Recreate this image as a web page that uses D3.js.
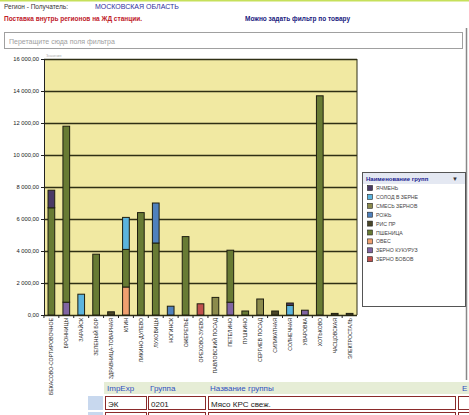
<!DOCTYPE html>
<html>
<head>
<meta charset="utf-8">
<script src="https://cdn.jsdelivr.net/npm/d3@7"></script>
<style>
  body { margin: 0; background: #fff; }
  text { font-family: "Liberation Sans", Arial, sans-serif; }
</style>
</head>
<body>
<script>
// categories (stations)
var stations = ["БЕКАСОВО-СОРТИРОВОЧНОЕ", "БРОННИЦЫ", "ЗАРАЙСК", "ЗЕЛЕНЫЙ БОР", "ЗДРАВНИЦА-ТОВАРНАЯ",
  "КЛИН", "ЛИКИНО-ДУЛЕВО", "ЛУХОВИЦЫ", "НОГИНСК", "ОЖЕРЕЛЬЕ", "ОРЕХОВО-ЗУЕВО", "ПАВЛОВСКИЙ ПОСАД",
  "ПЕТЕЛИНО", "ПУШКИНО", "СЕРГИЕВ ПОСАД", "СИЛИКАТНАЯ", "СОЛНЕЧНАЯ", "УВАРОВКА", "ХОТЬКОВО",
  "ЧАСЦОВСКАЯ", "ЭЛЕКТРОСТАЛЬ"];

// series, bottom of stack first
var bobov    = [0, 0, 0, 0, 0, 0, 0, 0, 0, 0, 700, 0, 0, 0, 0, 0, 0, 0, 0, 0, 0];
var kukuruz  = [0, 800, 0, 0, 0, 0, 0, 0, 0, 0, 0, 0, 800, 0, 0, 0, 0, 300, 0, 0, 0];
var oves     = [0, 0, 0, 0, 0, 1750, 0, 0, 0, 0, 0, 0, 0, 0, 0, 0, 0, 0, 0, 0, 0];
var pshenica = [6700, 11000, 0, 3800, 0, 2350, 6400, 4500, 0, 4900, 0, 0, 3250, 250, 0, 0, 0, 0, 13700, 0, 0];
var ris      = [0, 0, 0, 0, 200, 0, 0, 0, 0, 0, 0, 0, 0, 0, 0, 250, 0, 0, 0, 100, 100];
var rozh     = [0, 0, 0, 0, 0, 0, 0, 2500, 550, 0, 0, 0, 0, 0, 0, 0, 0, 0, 0, 0, 0];
var smes     = [0, 0, 0, 0, 0, 0, 0, 0, 0, 0, 0, 1100, 0, 0, 1000, 0, 0, 0, 0, 0, 0];
var solod    = [0, 0, 1300, 0, 0, 2000, 0, 0, 0, 0, 0, 0, 0, 0, 0, 0, 600, 0, 0, 0, 0];
var yachmen  = [1100, 0, 0, 0, 0, 0, 0, 0, 0, 0, 0, 0, 0, 0, 0, 0, 150, 0, 0, 0, 0];

var seriesNames = ["ЗЕРНО БОБОВ", "ЗЕРНО КУКУРУЗ", "ОВЕС", "ПШЕНИЦА", "РИС ПР", "РОЖЬ", "СМЕСЬ ЗЕРНОВ", "СОЛОД В ЗЕРНЕ", "ЯЧМЕНЬ"];
var seriesValues = [bobov, kukuruz, oves, pshenica, ris, rozh, smes, solod, yachmen];
var seriesColors = ["#c0504d", "#8064a2", "#f0a070", "#687b34", "#4a4628", "#4f81bd", "#8c8b4c", "#5bb4de", "#4a3a66"];

var yTicks = [0, 2000, 4000, 6000, 8000, 10000, 12000, 14000, 16000];

var W = 469, H = 415;
var svg = d3.select("body").append("svg").attr("width", W).attr("height", H);

// header
svg.append("rect").attr("x", 0).attr("y", 0).attr("width", W).attr("height", 1.5).attr("fill", "#c6e05a");
svg.append("text").attr("x", 4).attr("y", 9).attr("font-size", 6.5).attr("fill", "#333").text("Регион - Получатель:");
svg.append("text").attr("x", 95).attr("y", 9).attr("font-size", 7).attr("fill", "#3030a0").text("МОСКОВСКАЯ ОБЛАСТЬ");
svg.append("text").attr("x", 4).attr("y", 21).attr("font-size", 6.5).attr("font-weight", "bold").attr("fill", "#c0202a")
  .text("Поставка внутрь регионов на ЖД станции.");
svg.append("text").attr("x", 245).attr("y", 21).attr("font-size", 6.5).attr("font-weight", "bold").attr("fill", "#1a1a80")
  .text("Можно задать фильтр по товару");

// filter box
svg.append("rect").attr("x", 4.5).attr("y", 32.5).attr("width", 458).attr("height", 16)
  .attr("fill", "#fff").attr("stroke", "#a0a0a0");
svg.append("text").attr("x", 9).attr("y", 43.5).attr("font-size", 7).attr("fill", "#a0a0a0").text("Перетащите сюда поля фильтра");
svg.append("line").attr("x1", 466.5).attr("x2", 466.5).attr("y1", 28).attr("y2", 380).attr("stroke", "#888").attr("stroke-width", 1.5);

// scales
var x = d3.scaleBand().domain(stations).range([44, 357]).paddingInner(0.55).paddingOuter(0.27);
var y = d3.scaleLinear().domain([0, 16000]).range([315, 59]);

var g = svg.append("g");
g.append("rect").attr("x", 44).attr("y", y(16000)).attr("width", 313).attr("height", y(0) - y(16000))
  .attr("fill", "#f1e9a2");

g.selectAll(".grid").data(yTicks).enter().append("line")
  .attr("x1", 44).attr("x2", 357)
  .attr("y1", function(d) { return Math.round(y(d)) + 0.5; })
  .attr("y2", function(d) { return Math.round(y(d)) + 0.5; })
  .attr("stroke", "#2f2f14").attr("stroke-width", 1.3);
g.append("line").attr("x1", 357).attr("x2", 357).attr("y1", y(16000)).attr("y2", y(0)).attr("stroke", "#2f2f14");

// stacked bars
var rows = stations.map(function(s, i) {
  var r = { station: s };
  seriesNames.forEach(function(n, k) { r[n] = seriesValues[k][i]; });
  return r;
});
var stack = d3.stack().keys(seriesNames)(rows);

stack.forEach(function(layer, k) {
  g.append("g").selectAll("rect").data(layer.filter(function(d) { return d[1] - d[0] > 0; })).enter().append("rect")
    .attr("x", function(d) { return x(d.data.station); })
    .attr("width", x.bandwidth())
    .attr("y", function(d) { return y(d[1]); })
    .attr("height", function(d) { return y(d[0]) - y(d[1]); })
    .attr("fill", seriesColors[k])
    .attr("stroke", "#1e1e10").attr("stroke-width", 1);
});

// y axis
var loc = d3.formatLocale({ decimal: ",", thousands: " ", grouping: [3], currency: ["", ""] });
var fmt = loc.format(",.2f");
var yAxis = svg.append("g").attr("transform", "translate(44,0)")
  .call(d3.axisLeft(y).tickValues(yTicks).tickSize(3).tickPadding(2).tickFormat(fmt));
yAxis.selectAll("text").attr("font-size", 5.8).attr("fill", "#222").style("font-family", "Liberation Sans, Arial, sans-serif");
yAxis.selectAll("line, path").attr("stroke", "#222");
svg.append("text").attr("x", 46).attr("y", 57).attr("font-size", 3.5).attr("fill", "#aaa").text("Значения");

// x labels
svg.append("g").selectAll("text").data(stations).enter().append("text")
  .attr("transform", function(d) { return "translate(" + (x(d) + x.bandwidth() / 2 + 2) + ",318) rotate(-90)"; })
  .attr("text-anchor", "end").attr("font-size", 5.2).attr("fill", "#1a1a1a").text(function(d) { return d; });
svg.append("g").selectAll("line").data(stations).enter().append("line")
  .attr("x1", function(d) { return x(d) - x.step() * x.paddingInner() / 2; })
  .attr("x2", function(d) { return x(d) - x.step() * x.paddingInner() / 2; })
  .attr("y1", 315).attr("y2", 318).attr("stroke", "#222");

// legend
var lg = svg.append("g");
lg.append("rect").attr("x", 362.5).attr("y", 172.5).attr("width", 103).attr("height", 134)
  .attr("fill", "#fff").attr("stroke", "#555");
lg.append("rect").attr("x", 363).attr("y", 173).attr("width", 102).attr("height", 11).attr("fill", "#e4e8f2");
lg.append("text").attr("x", 366).attr("y", 181).attr("font-size", 6).attr("font-weight", "bold").attr("fill", "#1a1a90")
  .text("Наименование групп");
lg.append("text").attr("x", 452).attr("y", 181).attr("font-size", 6).attr("fill", "#333").text("▼");
var legendOrder = seriesNames.slice().reverse();
legendOrder.forEach(function(n, i) {
  var k = seriesNames.indexOf(n);
  var yy = 190 + i * 8.9;
  lg.append("rect").attr("x", 367.5).attr("y", yy - 4.5).attr("width", 5).attr("height", 5)
    .attr("fill", seriesColors[k]).attr("stroke", "#222").attr("stroke-width", 0.6);
  lg.append("text").attr("x", 376).attr("y", yy).attr("font-size", 5.2).attr("fill", "#444").text(n);
});

// table below
var tb = svg.append("g");
tb.append("rect").attr("x", 104).attr("y", 382).attr("width", 365).attr("height", 12).attr("fill", "#e6edd6");
tb.append("text").attr("x", 107).attr("y", 391).attr("font-size", 8).attr("fill", "#3050c0").text("ImpExp");
tb.append("text").attr("x", 150).attr("y", 391).attr("font-size", 8).attr("fill", "#3050c0").text("Группа");
tb.append("text").attr("x", 210).attr("y", 391).attr("font-size", 8).attr("fill", "#3050c0").text("Название группы");
tb.append("text").attr("x", 462).attr("y", 391).attr("font-size", 8).attr("fill", "#3050c0").text("Е");
tb.append("rect").attr("x", 88).attr("y", 396).attr("width", 15).attr("height", 14).attr("fill", "#c8d8ee");
tb.append("rect").attr("x", 88).attr("y", 412).attr("width", 15).attr("height", 4).attr("fill", "#c8d8ee");
var cells = [[105, 41, "ЭК"], [148, 57, "0201"], [208, 247, "Мясо КРС свеж."], [458, 14, ""]];
cells.forEach(function(c) {
  tb.append("rect").attr("x", c[0] + 0.5).attr("y", 396.5).attr("width", c[1]).attr("height", 13)
    .attr("fill", "#fff").attr("stroke", "#8a2a2a");
  tb.append("rect").attr("x", c[0] + 0.5).attr("y", 412.5).attr("width", c[1]).attr("height", 6)
    .attr("fill", "#fff").attr("stroke", "#8a2a2a");
  tb.append("text").attr("x", c[0] + 3).attr("y", 406.5).attr("font-size", 8).attr("fill", "#222").text(c[2]);
});
</script>
</body>
</html>
